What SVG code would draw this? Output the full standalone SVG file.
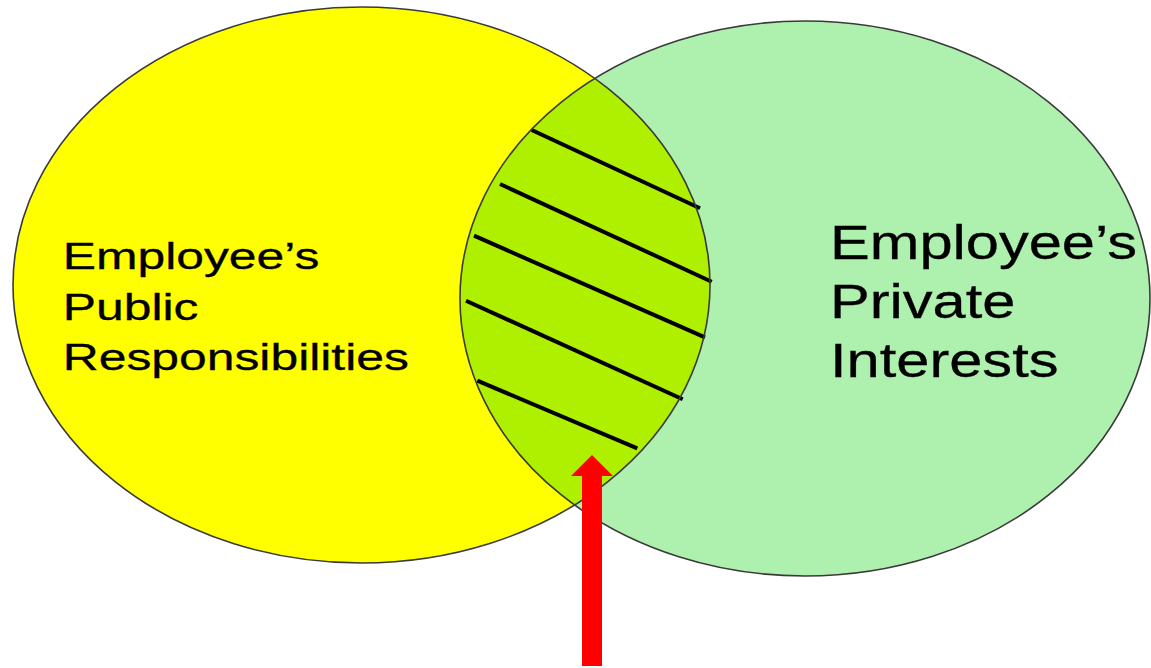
<svg xmlns="http://www.w3.org/2000/svg" width="1151" height="668" viewBox="0 0 1151 668">
  <style>
    .outline { fill: none; stroke: #3a3a3a; stroke-width: 1.6; }
    .label { font-family: "Liberation Sans", Arial, sans-serif; fill: #000; stroke: #000; stroke-width: 0.3; }
    .hatch { stroke: #000; stroke-width: 4; stroke-linecap: butt; }
  </style>
  <defs>
    <ellipse id="publicShape" cx="361.5" cy="285" rx="348.5" ry="278"/>
    <ellipse id="privateShape" cx="805" cy="298.5" rx="345" ry="277.5"/>
    <clipPath id="publicClip">
      <use href="#publicShape"/>
    </clipPath>
  </defs>

  <rect width="1151" height="668" fill="#ffffff"/>

  <!-- Public responsibilities -->
  <g id="public">
    <use href="#publicShape" fill="#ffff00"/>
    <text class="label" font-size="36.5" transform="translate(62.8 269.3) scale(1.365 1)">
      <tspan x="0" y="0">Employee’s</tspan>
      <tspan x="0" y="51">Public</tspan>
      <tspan x="0" y="100.7">Responsibilities</tspan>
    </text>
  </g>

  <!-- Private interests -->
  <g id="private">
    <use href="#privateShape" fill="#aef0ae"/>
    <text class="label" font-size="47.5" transform="translate(830 259.3) scale(1.255 1)">
      <tspan x="0" y="0">Employee’s</tspan>
      <tspan x="0" y="59">Private</tspan>
      <tspan x="0" y="117.4">Interests</tspan>
    </text>
  </g>

  <!-- Overlap: conflict of interest zone -->
  <g id="overlap">
    <use href="#privateShape" fill="#aef000" clip-path="url(#publicClip)"/>
    <line class="hatch" x1="531.7" y1="130" x2="700" y2="208.3"/>
    <line class="hatch" x1="500" y1="184" x2="711.7" y2="281.7"/>
    <line class="hatch" x1="474" y1="235.7" x2="705" y2="337.3"/>
    <line class="hatch" x1="466" y1="300.7" x2="682.7" y2="399.3"/>
    <line class="hatch" x1="477.3" y1="380.7" x2="637.3" y2="448.3"/>
  </g>

  <!-- Ellipse outlines on top of the fills -->
  <g id="outlines">
    <use href="#publicShape" class="outline"/>
    <use href="#privateShape" class="outline"/>
  </g>

  <!-- Pointer into the overlap -->
  <g id="connectors">
    <polygon fill="#ff0000" points="592,455 613,476 602,476 602,666 582,666 582,476 571,476"/>
  </g>
</svg>
